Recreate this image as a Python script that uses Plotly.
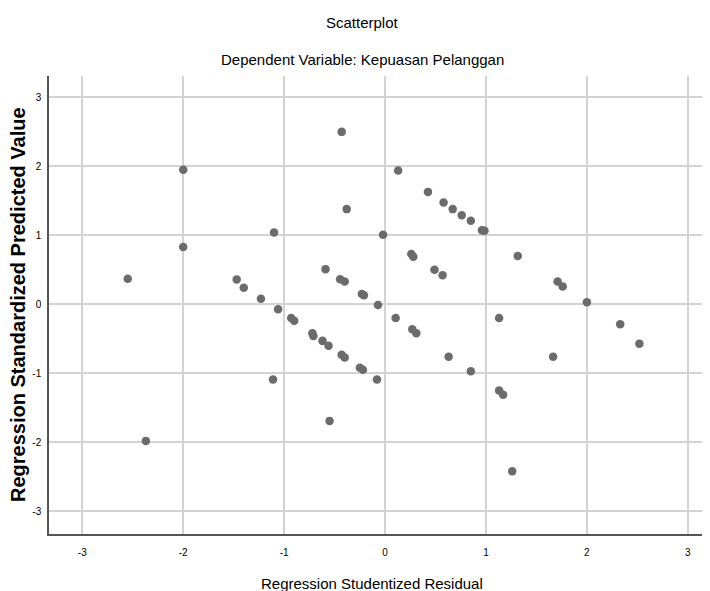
import plotly.graph_objects as go

resid = [-2.55, -2.0, -2.0, -2.37, -1.10, -1.47, -1.40, -1.23, -1.06, -0.93, -0.90,
         -1.11, -0.72, -0.71, -0.62, -0.56, -0.43, -0.40, -0.25, -0.22, -0.08, -0.55,
         -0.23, -0.21, -0.07, -0.59, -0.445, -0.40, -0.43, -0.38,
         0.13, 0.425, 0.58, 0.67, 0.76, 0.85, 0.96, 0.985, -0.02, 0.26, 0.28,
         0.49, 0.57, 1.315, 1.71, 1.76, 2.0,
         0.105, 0.27, 0.31, 0.63, 0.85, 1.13, 1.665, 2.33, 2.52, 1.13, 1.17, 1.26]
pred = [0.37, 1.95, 0.83, -1.98, 1.04, 0.36, 0.24, 0.08, -0.07, -0.20, -0.24,
        -1.09, -0.42, -0.46, -0.53, -0.60, -0.73, -0.77, -0.92, -0.95, -1.09, -1.69,
        0.15, 0.13, -0.01, 0.51, 0.365, 0.33, 2.50, 1.38,
        1.94, 1.63, 1.475, 1.38, 1.29, 1.21, 1.075, 1.065, 1.01, 0.73, 0.69,
        0.50, 0.42, 0.70, 0.33, 0.26, 0.03,
        -0.20, -0.36, -0.42, -0.76, -0.97, -0.20, -0.76, -0.29, -0.57, -1.25, -1.31, -2.42]
ticks = [-3, -2, -1, 0, 1, 2, 3]
tick_labels = ["-3", "-2", "-1", "0", "1", "2", "3"]

narrow = "Liberation Sans Narrow, Arial Narrow, Liberation Sans, Arial, sans-serif"

fig = go.Figure()
fig.add_trace(go.Scatter(x=resid, y=pred, mode="markers",
                         marker=dict(color="#6b6b6b", size=8.5, line=dict(width=0)),
                         hoverinfo="skip"))

# page body has an 8px default margin; positions below are in figure pixels
OFF = 8
PL, PR, PT, PB = 49 - OFF, 708 - OFF, 76 - OFF, 534 - OFF
FW, FH = 710, 591
W = PR - PL
H = PB - PT

fig.update_layout(
    width=FW, height=FH,
    margin=dict(l=PL, r=FW - PR, t=PT, b=FH - PB, autoexpand=False),
    paper_bgcolor="white", plot_bgcolor="white",
    showlegend=False,
    font=dict(family=narrow, color="#000000", size=10),
    xaxis=dict(range=[-3.33, 3.20], tickvals=ticks, ticktext=tick_labels, showgrid=True,
               gridcolor="#d3d3d3", gridwidth=1.5, zeroline=False, automargin=False,
               showline=True, linecolor="#555555", linewidth=1.5,
               ticks="outside", ticklen=0, ticklabelstandoff=8,
               tickfont=dict(family=narrow, size=10, color="#000")),
    yaxis=dict(range=[-3.33, 3.31], tickvals=ticks, ticktext=tick_labels, showgrid=True,
               gridcolor="#d3d3d3", gridwidth=1.5, zeroline=False, automargin=False,
               showline=True, linecolor="#555555", linewidth=1.5,
               ticks="outside", ticklen=0, ticklabelstandoff=4,
               tickfont=dict(family=narrow, size=10, color="#000")),
    annotations=[
        dict(text="Scatterplot", xref="paper", yref="paper",
             x=(362 - OFF - PL) / W, y=1 + (PT - (22 - OFF)) / H,
             xanchor="center", yanchor="middle",
             showarrow=False, font=dict(family=narrow, size=15, color="#000")),
        dict(text="Dependent Variable: Kepuasan Pelanggan", xref="paper", yref="paper",
             x=(362 - OFF - PL) / W, y=1 + (PT - (60 - OFF)) / H,
             xanchor="center", yanchor="middle",
             showarrow=False, font=dict(family=narrow, size=15, color="#000")),
        dict(text="Regression Studentized Residual", xref="paper", yref="paper",
             x=(372 - OFF - PL) / W, y=-((583 - OFF) - PB) / H,
             xanchor="center", yanchor="middle",
             showarrow=False, font=dict(family=narrow, size=15, color="#000")),
        dict(text="<b>Regression Standardized Predicted Value</b>", xref="paper", yref="paper",
             x=-(PL - (18 - OFF)) / W, y=(PB - (305 - OFF)) / H,
             xanchor="center", yanchor="middle",
             textangle=-90, showarrow=False,
             font=dict(family="Liberation Sans, Arial, sans-serif", size=20, color="#000")),
    ],
)

fig.write_html("out.html")
